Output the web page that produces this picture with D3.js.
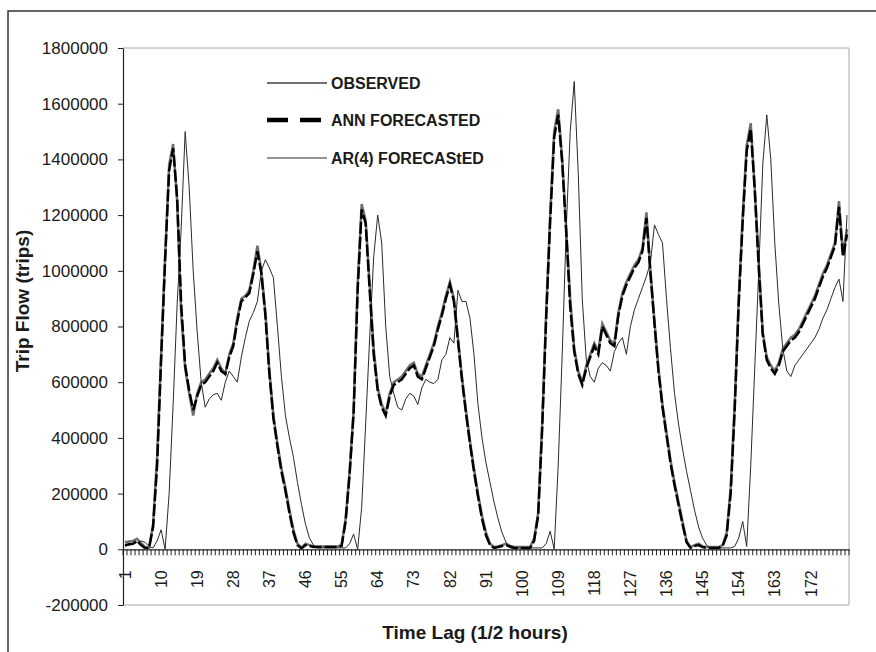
<!DOCTYPE html>
<html>
<head>
<meta charset="utf-8">
<script src="https://cdn.jsdelivr.net/npm/d3@7"></script>
<style>
  body { margin: 0; background: #fff; }
  text { font-family: "Liberation Sans", Arial, sans-serif; }
</style>
</head>
<body>
<svg id="chart"></svg>
<script>
// Trip flow: observed vs ANN and AR(4) forecasts, by time lag (1/2 hours)

const lags = d3.range(1, 182);
const xTickLabels = [1, 10, 19, 28, 37, 46, 55, 64, 73, 82, 91, 100, 109, 118, 127, 136, 145, 154, 163, 172];
const yTicks = [-200000, 0, 200000, 400000, 600000, 800000, 1000000, 1200000, 1400000, 1600000, 1800000];
const seriesNames = ["OBSERVED", "ANN FORECASTED", "AR(4) FORECAStED"];

const observed = [
  25000, 28000, 30000, 38000, 22000, 8000, 5000, 90000, 330000, 700000,
  1050000, 1380000, 1455000, 1250000, 850000, 650000, 560000, 480000, 560000, 600000,
  610000, 630000, 650000, 680000, 650000, 630000, 700000, 740000, 830000, 900000,
  910000, 930000, 1000000, 1090000, 1000000, 850000, 640000, 480000, 380000, 290000,
  220000, 140000, 70000, 20000, 5000, 20000, 15000, 10000, 10000, 10000,
  10000, 10000, 10000, 10000, 15000, 110000, 280000, 500000, 950000, 1240000,
  1180000, 950000, 720000, 580000, 520000, 490000, 560000, 600000, 610000, 620000,
  640000, 660000, 670000, 630000, 620000, 660000, 700000, 740000, 800000, 850000,
  910000, 960000, 900000, 760000, 620000, 500000, 390000, 290000, 200000, 120000,
  60000, 20000, 8000, 10000, 15000, 20000, 12000, 8000, 8000, 8000,
  8000, 8000, 40000, 130000, 450000, 850000, 1200000, 1500000, 1580000, 1400000,
  1150000, 900000, 720000, 640000, 600000, 660000, 700000, 740000, 710000, 810000,
  780000, 750000, 740000, 850000, 920000, 960000, 990000, 1020000, 1040000, 1080000,
  1210000, 1000000, 820000, 650000, 520000, 420000, 320000, 240000, 170000, 100000,
  30000, 8000, 15000, 20000, 10000, 8000, 8000, 8000, 8000, 15000,
  60000, 220000, 520000, 900000, 1200000, 1450000, 1530000, 1300000, 1030000, 780000,
  690000, 660000, 640000, 670000, 720000, 740000, 760000, 770000, 790000, 820000,
  850000, 880000, 910000, 950000, 990000, 1020000, 1060000, 1100000, 1250000, 1060000, 1150000
];

const annForecast = [
  15000, 18000, 20000, 30000, 15000, 5000, 5000, 80000, 300000, 680000,
  1040000, 1360000, 1440000, 1260000, 880000, 660000, 570000, 500000, 550000, 590000,
  600000, 620000, 640000, 670000, 640000, 630000, 690000, 730000, 820000, 890000,
  905000, 920000, 990000, 1070000, 990000, 840000, 630000, 470000, 370000, 280000,
  210000, 130000, 60000, 15000, 3000, 15000, 12000, 8000, 8000, 8000,
  8000, 8000, 8000, 8000, 12000, 100000, 270000, 490000, 930000, 1220000,
  1170000, 930000, 700000, 570000, 510000, 480000, 550000, 590000, 600000, 610000,
  630000, 650000, 660000, 620000, 610000, 650000, 690000, 730000, 790000, 840000,
  900000, 950000, 890000, 750000, 610000, 490000, 380000, 280000, 190000, 110000,
  50000, 15000, 5000, 8000, 12000, 15000, 10000, 5000, 5000, 5000,
  5000, 5000, 30000, 120000, 430000, 830000, 1180000, 1480000, 1560000, 1390000,
  1140000, 870000, 710000, 630000, 590000, 650000, 690000, 730000, 700000, 800000,
  770000, 740000, 730000, 840000, 910000, 950000, 980000, 1010000, 1030000, 1070000,
  1190000, 990000, 810000, 640000, 510000, 410000, 310000, 230000, 160000, 90000,
  25000, 5000, 12000, 15000, 8000, 5000, 5000, 5000, 5000, 12000,
  50000, 200000, 500000, 880000, 1180000, 1430000, 1510000, 1290000, 1010000, 770000,
  680000, 650000, 630000, 660000, 710000, 730000, 750000, 760000, 780000, 810000,
  840000, 870000, 900000, 940000, 980000, 1010000, 1050000, 1090000, 1230000, 1050000, 1130000
];

const arForecast = [
  10000, 15000, 20000, 25000, 30000, 25000, 10000, 5000, 30000, 70000,
  0, 200000, 520000, 880000, 1150000, 1500000, 1300000, 1000000, 780000, 600000,
  510000, 540000, 555000, 560000, 535000, 600000, 640000, 620000, 600000, 690000,
  760000, 820000, 850000, 890000, 1000000, 1040000, 1010000, 975000, 800000, 620000,
  480000, 400000, 330000, 240000, 160000, 90000, 40000, 15000, 5000, 5000,
  5000, 5000, 5000, 5000, 5000, 5000, 20000, 55000, 0, 150000,
  450000, 760000, 1050000, 1200000, 1100000, 800000, 620000, 560000, 510000, 500000,
  540000, 560000, 550000, 520000, 580000, 610000, 600000, 595000, 610000, 680000,
  700000, 760000, 740000, 930000, 890000, 890000, 830000, 700000, 520000, 400000,
  310000, 240000, 170000, 110000, 60000, 25000, 5000, 5000, 5000, 5000,
  5000, 5000, 5000, 5000, 5000, 20000, 65000, 0, 300000, 700000,
  1150000, 1500000, 1680000, 1350000, 900000, 680000, 620000, 600000, 650000, 670000,
  660000, 640000, 710000, 740000, 760000, 700000, 800000, 860000, 900000, 940000,
  980000, 1030000, 1165000, 1130000, 1100000, 900000, 720000, 560000, 450000, 360000,
  280000, 210000, 140000, 80000, 40000, 15000, 5000, 5000, 5000, 5000,
  5000, 5000, 10000, 40000, 100000, 10000, 300000, 650000, 1000000, 1380000,
  1560000, 1400000, 1100000, 880000, 720000, 640000, 620000, 660000, 680000, 700000,
  720000, 740000, 760000, 790000, 830000, 860000, 900000, 940000, 970000, 890000, 1200000
];

const W = 876, H = 652;
const plotL = 123, plotR = 849, plotT = 48, plotB = 605;

let svg = d3.select("#chart")
    .attr("width", W)
    .attr("height", H);

// outer frame (left and top edges only)
svg.append("path")
    .attr("d", `M8,${H} L8,11 L${W},11`)
    .attr("fill", "none")
    .attr("stroke", "#333")
    .attr("stroke-width", 1.5);

let x = d3.scaleBand()
    .domain(lags)
    .range([plotL, plotR])
    .padding(0);

let y = d3.scaleLinear()
    .domain([-200000, 1800000])
    .range([plotB, plotT]);

let cx = d => x(d) + x.bandwidth() / 2;

// plot area edges (top, right, bottom)
svg.append("path")
    .attr("d", `M${plotL},${plotT} L${plotR},${plotT} L${plotR},${plotB} L${plotL},${plotB}`)
    .attr("fill", "none")
    .attr("stroke", "#a8a8a8")
    .attr("stroke-width", 1);

// y axis
let yAxis = d3.axisLeft(y)
    .tickValues(yTicks)
    .tickSize(5)
    .tickSizeOuter(0)
    .tickPadding(10)
    .tickFormat(d => String(d));

svg.append("g")
    .attr("transform", `translate(${plotL},0)`)
    .call(yAxis)
    .call(g => g.select(".domain").attr("stroke", "#222").attr("stroke-width", 1.2))
    .call(g => g.selectAll(".tick line").attr("stroke", "#222"))
    .call(g => g.selectAll("text")
        .attr("font-size", "17px")
        .attr("fill", "#1a1a1a"));

// x axis at zero
let y0 = y(0);
let xAxis = d3.axisBottom(x)
    .tickValues(xTickLabels)
    .tickSize(0)
    .tickSizeOuter(0);

let gx = svg.append("g")
    .attr("transform", `translate(0,${y0})`)
    .call(xAxis)
    .call(g => g.select(".domain").attr("stroke", "#222").attr("stroke-width", 1.2));

gx.selectAll(".tick text")
    .attr("font-size", "16px")
    .attr("fill", "#1a1a1a")
    .attr("text-anchor", "end")
    .attr("transform", "rotate(-90)")
    .attr("x", -21)
    .attr("y", 0)
    .attr("dy", "0.35em");

// minor tick marks between every category
let bounds = lags.map(d => x(d)).concat([x.range()[1]]);
gx.selectAll(".minor")
    .data(bounds)
    .enter()
    .append("line")
    .attr("class", "minor")
    .attr("x1", d => d)
    .attr("x2", d => d)
    .attr("y1", 0)
    .attr("y2", 6)
    .attr("stroke", "#222")
    .attr("stroke-width", 1);

// series lines
let lineOf = vals => d3.line()
    .x((d, i) => cx(lags[i]))
    .y(d => y(d))(vals);

svg.append("path")
    .attr("d", lineOf(observed))
    .attr("fill", "none")
    .attr("stroke", "#707070")
    .attr("stroke-width", 2.5);

svg.append("path")
    .attr("d", lineOf(arForecast))
    .attr("fill", "none")
    .attr("stroke", "#2a2a2a")
    .attr("stroke-width", 1);

svg.append("path")
    .attr("d", lineOf(annForecast))
    .attr("fill", "none")
    .attr("stroke", "#000")
    .attr("stroke-width", 2.5)
    .attr("stroke-dasharray", "12,3");

// legend
let legY = [83, 120, 158];
let legStyles = [
    {stroke: "#707070", width: 2, dash: null},
    {stroke: "#000", width: 4.5, dash: "21,12"},
    {stroke: "#2a2a2a", width: 1.2, dash: null}
];
seriesNames.forEach((name, i) => {
    svg.append("line")
        .attr("x1", 267)
        .attr("x2", 327)
        .attr("y1", legY[i])
        .attr("y2", legY[i])
        .attr("stroke", legStyles[i].stroke)
        .attr("stroke-width", legStyles[i].width)
        .attr("stroke-dasharray", legStyles[i].dash);
    svg.append("text")
        .attr("x", 331)
        .attr("y", legY[i])
        .attr("dy", "0.35em")
        .attr("font-size", "16px")
        .attr("font-weight", "bold")
        .attr("fill", "#1a1a1a")
        .text(name);
});

// axis titles
svg.append("text")
    .attr("transform", "translate(29,301) rotate(-90)")
    .attr("text-anchor", "middle")
    .attr("font-size", "19px")
    .attr("font-weight", "bold")
    .attr("fill", "#1a1a1a")
    .text("Trip Flow (trips)");

svg.append("text")
    .attr("x", 475)
    .attr("y", 639)
    .attr("text-anchor", "middle")
    .attr("font-size", "19px")
    .attr("font-weight", "bold")
    .attr("fill", "#1a1a1a")
    .text("Time Lag (1/2 hours)");
</script>
</body>
</html>
